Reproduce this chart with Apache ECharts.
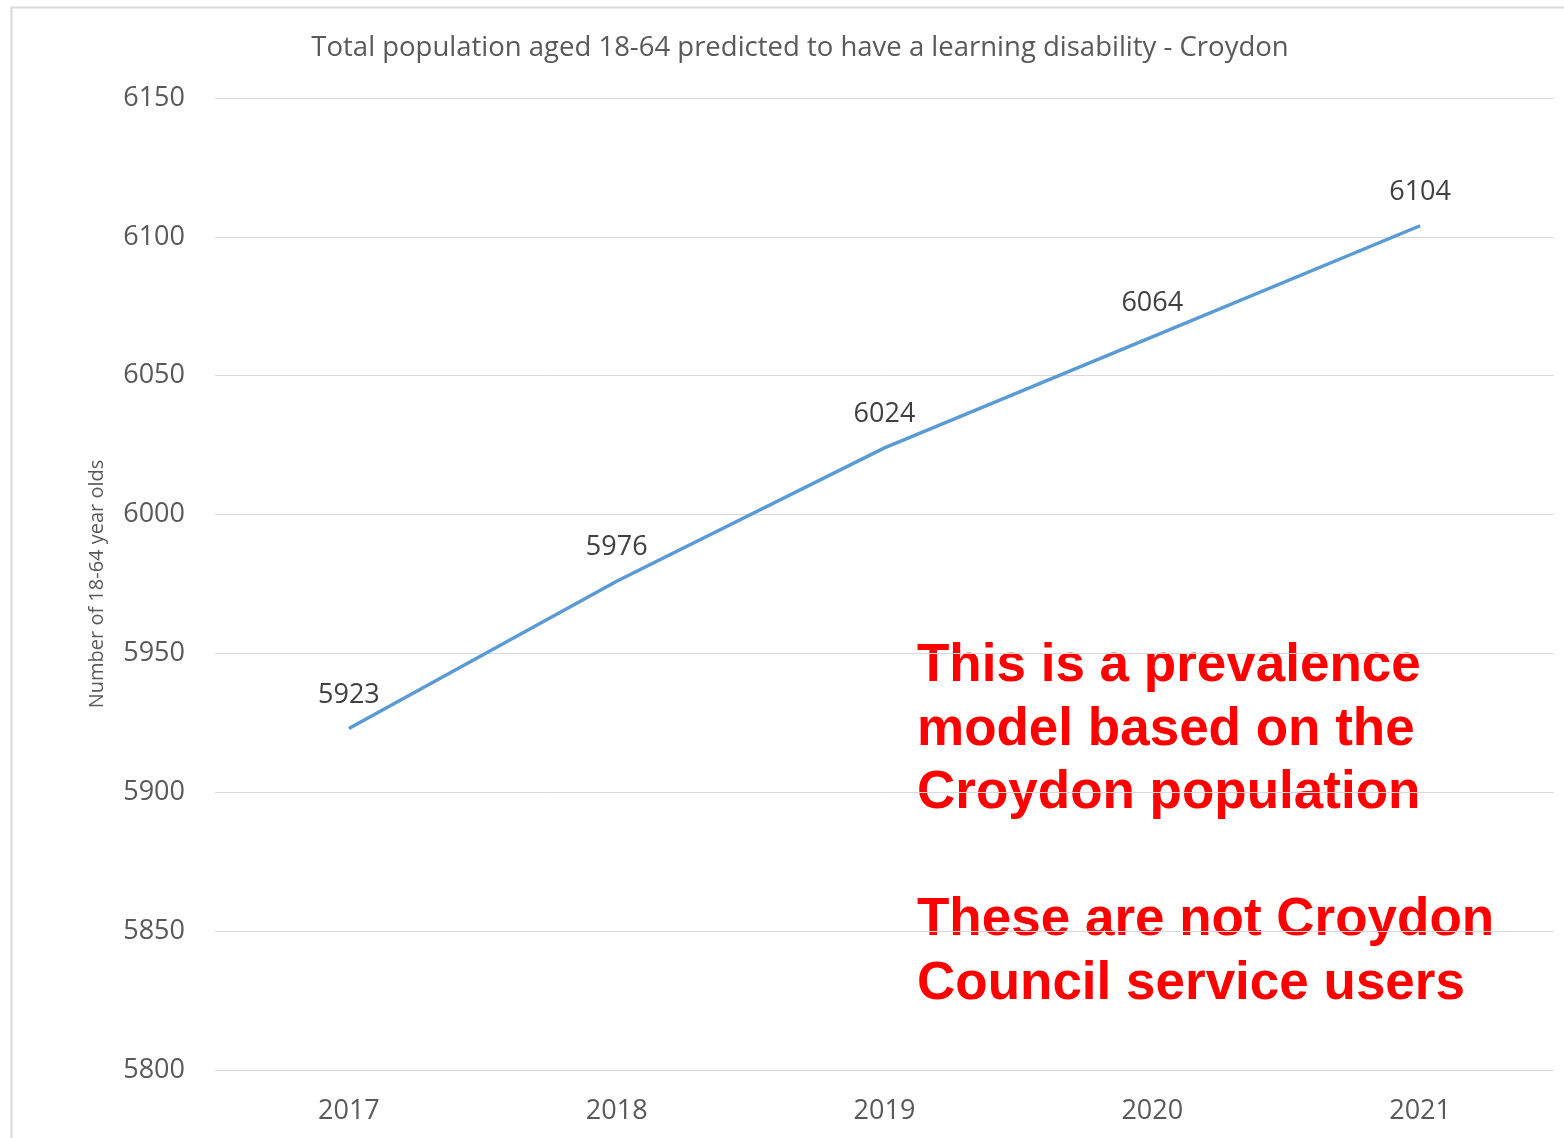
<!DOCTYPE html>
<html><head><meta charset="utf-8">
<script src="https://cdn.jsdelivr.net/npm/echarts@6/dist/echarts.min.js"></script>
<style>html,body{margin:0;padding:0;background:#fff}#c{width:1564px;height:1138px}</style>
</head><body><div id="c"></div>
<script>
const years = ['2017','2018','2019','2020','2021'];
const population = [5923, 5976, 6024, 6064, 6104];
const yTicks = {min: 5800, max: 6150, interval: 50};
const titleText = 'Total population aged 18-64 predicted to have a learning disability - Croydon';
const yAxisName = 'Number of 18-64 year olds';
const noteLines = ['This is a prevalence','model based on the','Croydon population','','These are not Croydon','Council service users'];

const chart = echarts.init(document.getElementById('c'));
const font = '"Open Sans", "Noto Sans", sans-serif';
chart.setOption({
  animation: false,
  title: {text: titleText, left: 795, top: 29, textAlign: 'center',
    textStyle: {fontFamily: font, fontSize: 27.5, fontWeight: 'normal', color: '#595959'}},
  grid: {left: 215, right: 10, top: 98, bottom: 68},
  xAxis: {type: 'category', data: years, boundaryGap: true,
    axisLine: {show: false}, axisTick: {show: false},
    axisLabel: {fontFamily: font, fontSize: 27, color: '#595959', margin: 28}},
  yAxis: {type: 'value', min: yTicks.min, max: yTicks.max, interval: yTicks.interval,
    name: yAxisName, nameLocation: 'middle', nameGap: 108, nameRotate: 90,
    nameTextStyle: {fontFamily: font, fontSize: 20, color: '#595959'},
    axisLine: {show: false}, axisTick: {show: false},
    axisLabel: {fontFamily: font, fontSize: 27, color: '#595959', margin: 30,
      formatter: v => String(v)},
    splitLine: {lineStyle: {color: '#d9d9d9', width: 1}}},
  series: [{type: 'line', data: population, symbol: 'circle', symbolSize: 2, showSymbol: true,
    itemStyle: {color: 'rgba(0,0,0,0)', borderWidth: 0},
    lineStyle: {color: '#5B9BD5', width: 3.5},
    label: {show: true, position: 'top', distance: 19, fontFamily: font, fontSize: 27, color: '#404040'}}],
  graphic: [
    {type: 'rect', shape: {x: 11.5, y: 7.5, width: 1600, height: 1200},
      style: {fill: 'none', stroke: '#d9d9d9', lineWidth: 2}, silent: true},
    {type: 'text', left: 917, top: 635,
      style: {text: noteLines.join('\n'), font: 'bold 53px "Liberation Sans", Arial, sans-serif',
        fill: '#FF0000', lineHeight: 63.5}}
  ]
});
</script></body></html>
